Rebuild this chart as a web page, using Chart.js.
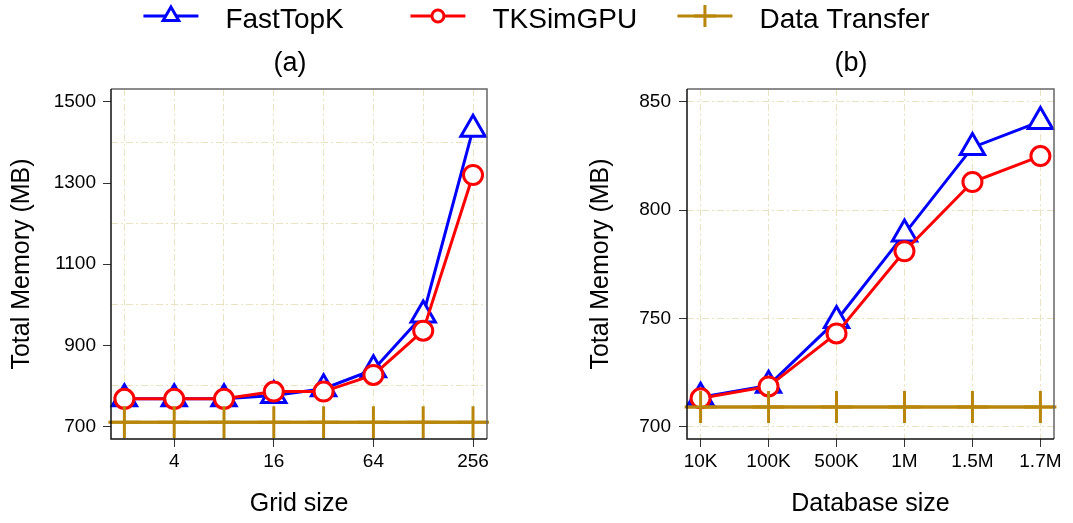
<!DOCTYPE html>
<html>
<head>
<meta charset="utf-8">
<script src="https://cdn.jsdelivr.net/npm/chart.js@4.4.0/dist/chart.umd.min.js"></script>
<style>
  html, body { margin: 0; padding: 0; background: #fff; }
  #wrap { position: relative; width: 1073px; height: 523px; }
  #wrap canvas { position: absolute; top: 0; }
  #chartA { left: 0; }
  #chartB { left: 540px; }
</style>
</head>
<body>
<div id="wrap">
  <canvas id="chartA" width="1073" height="523"></canvas>
  <canvas id="chartB" width="533" height="523"></canvas>
</div>
<script>
// panel (a): memory vs grid size
const gridSizes = [2, 4, 8, 16, 32, 64, 128, 256];
const gridLabels = [4, 16, 64, 256];
const fastTopKA = [768, 768, 768, 776, 793, 840, 975, 1433];
const tkSimGpuA = [768, 768, 768, 786, 786, 827, 936, 1320];
const transferA = [710, 710, 710, 710, 710, 710, 710, 710];
const yTicksA = [700, 900, 1100, 1300, 1500];

// panel (b): memory vs database size
const dbSizes = ['10K', '100K', '500K', '1M', '1.5M', '1.7M'];
const fastTopKB = [713.5, 719, 749, 789, 829, 841];
const tkSimGpuB = [713, 718.5, 743, 781, 813, 825];
const transferB = [709, 709, 709, 709, 709, 709];
const yTicksB = [700, 750, 800, 850];

const FONT = "'Liberation Sans', Arial, Helvetica, sans-serif";
const BLUE = '#0000ff';
const RED = '#ff0000';
const GOLD = '#b8860b';
const GRID = '#ebe2c2';
const AXIS = '#333';

Chart.defaults.font.family = FONT;
Chart.defaults.color = '#000';

// minor grid lines sit half way between labelled y ticks
const yGridA = [];
yTicksA.forEach((v, i) => {
  yGridA.push(v);
  if (i < yTicksA.length - 1) yGridA.push((v + yTicksA[i + 1]) / 2);
});

function lineSet(label, data, color, style, radius, order) {
  return {
    label: label,
    data: data,
    borderColor: color,
    borderWidth: 3,
    pointStyle: style,
    pointRadius: radius,
    pointBorderWidth: 3,
    pointBorderColor: color,
    pointBackgroundColor: '#fff',
    order: order,
    clip: false
  };
}

// box around plot, transfer line across full width, panel letter
const panelFrame = {
  id: 'panelFrame',
  beforeDatasetsDraw(chart, args, opts) {
    const ctx = chart.ctx, a = chart.chartArea;
    const py = chart.scales.y.getPixelForValue(opts.transfer);
    ctx.save();
    ctx.strokeStyle = GOLD;
    ctx.lineWidth = 3;
    ctx.beginPath();
    ctx.moveTo(a.left, py);
    ctx.lineTo(a.right, py);
    ctx.stroke();
    ctx.restore();
  },
  afterDatasetsDraw(chart, args, opts) {
    const ctx = chart.ctx, a = chart.chartArea;
    ctx.save();
    ctx.lineWidth = 1.5;
    ctx.strokeStyle = '#666';
    ctx.beginPath();
    ctx.moveTo(a.left, a.top);
    ctx.lineTo(a.right, a.top);
    ctx.lineTo(a.right, a.bottom);
    ctx.stroke();
    ctx.strokeStyle = '#111';
    ctx.beginPath();
    ctx.moveTo(a.left, a.top);
    ctx.lineTo(a.left, a.bottom);
    ctx.lineTo(a.right, a.bottom);
    ctx.stroke();
    ctx.fillStyle = '#000';
    ctx.font = '27px ' + FONT;
    ctx.textAlign = 'center';
    ctx.textBaseline = 'alphabetic';
    ctx.fillText(opts.title, opts.titleX, 71);
    ctx.restore();
  }
};

function marker(ctx, style, x, y, r) {
  ctx.beginPath();
  if (style === 'triangle') {
    ctx.moveTo(x, y - r);
    ctx.lineTo(x + r * Math.sin(Math.PI * 2 / 3), y + r / 2);
    ctx.lineTo(x - r * Math.sin(Math.PI * 2 / 3), y + r / 2);
    ctx.closePath();
    ctx.fill();
  } else if (style === 'circle') {
    ctx.arc(x, y, r, 0, Math.PI * 2);
    ctx.fill();
  } else {
    ctx.moveTo(x, y - r);
    ctx.lineTo(x, y + r);
    ctx.moveTo(x - r, y);
    ctx.lineTo(x + r, y);
  }
  ctx.stroke();
}

// shared legend across the top, drawn on the wide canvas
const topLegend = {
  id: 'topLegend',
  afterDraw(chart) {
    const ctx = chart.ctx;
    const items = [
      { label: 'FastTopK', color: BLUE, style: 'triangle', r: 9 },
      { label: 'TKSimGPU', color: RED, style: 'circle', r: 6 },
      { label: 'Data Transfer', color: GOLD, style: 'cross', r: 11 }
    ];
    const symW = 55, gap = 27, col = 267;
    ctx.save();
    ctx.font = '28px ' + FONT;
    const lastW = ctx.measureText(items[items.length - 1].label).width;
    const total = col * (items.length - 1) + symW + gap + lastW;
    let x0 = (chart.width - total) / 2;
    items.forEach((it, i) => {
      const x = x0 + i * col;
      ctx.strokeStyle = it.color;
      ctx.fillStyle = '#fff';
      ctx.lineWidth = 3;
      ctx.beginPath();
      ctx.moveTo(x, 16);
      ctx.lineTo(x + symW, 16);
      ctx.stroke();
      marker(ctx, it.style, x + symW / 2, 16, it.r);
      ctx.fillStyle = '#000';
      ctx.textAlign = 'left';
      ctx.textBaseline = 'alphabetic';
      ctx.fillText(it.label, x + symW + gap, 28);
    });
    ctx.restore();
  }
};

const dashGrid = [7, 3, 2, 3];

new Chart(document.getElementById('chartA'), {
  type: 'line',
  data: {
    datasets: [
      lineSet('FastTopK', fastTopKA.map((v, i) => ({ x: gridSizes[i], y: v })), BLUE, 'triangle', 14, 3),
      lineSet('TKSimGPU', tkSimGpuA.map((v, i) => ({ x: gridSizes[i], y: v })), RED, 'circle', 9.5, 2),
      lineSet('Data Transfer', transferA.map((v, i) => ({ x: gridSizes[i], y: v })), GOLD, 'cross', 16, 1)
    ]
  },
  options: {
    responsive: false,
    animation: false,
    events: [],
    devicePixelRatio: 1,
    layout: { padding: { top: 89, right: 586, bottom: 0, left: 0 } },
    plugins: {
      legend: { display: false },
      title: { display: false },
      tooltip: { enabled: false },
      panelFrame: { title: '(a)', titleX: 290, transfer: transferA[0] }
    },
    scales: {
      x: {
        type: 'logarithmic',
        min: 1.66,
        max: 311,
        afterBuildTicks: s => { s.ticks = gridSizes.map(v => ({ value: v })); },
        afterFit: s => { s.height = 84; },
        ticks: {
          autoSkip: false,
          maxRotation: 0,
          padding: 3,
          font: { size: 19 },
          color: '#000',
          callback: v => gridLabels.includes(v) ? String(v) : ''
        },
        grid: {
          color: GRID,
          lineWidth: 1,
          tickLength: 8,
          tickColor: c => (c.tick && gridLabels.includes(c.tick.value)) ? AXIS : 'transparent'
        },
        border: { display: false, dash: dashGrid },
        title: { display: true, text: 'Grid size', font: { size: 25 }, color: '#000', padding: { top: 0, bottom: 4 } }
      },
      y: {
        type: 'linear',
        min: 669,
        max: 1532,
        afterBuildTicks: s => { s.ticks = yGridA.map(v => ({ value: v })); },
        afterFit: s => { s.width = 111; },
        ticks: {
          autoSkip: false,
          padding: 7,
          font: { size: 19 },
          color: '#000',
          callback: v => yTicksA.includes(v) ? String(v) : ''
        },
        grid: {
          color: c => (c.tick && yTicksA.includes(c.tick.value)) ? 'transparent' : GRID,
          lineWidth: 1,
          tickLength: 8,
          tickColor: c => (c.tick && yTicksA.includes(c.tick.value)) ? AXIS : 'transparent'
        },
        border: { display: false, dash: dashGrid },
        title: { display: true, text: 'Total Memory (MB)', font: { size: 25 }, color: '#000', padding: { top: 7.5, bottom: 0 } }
      }
    }
  },
  plugins: [panelFrame, topLegend]
});

new Chart(document.getElementById('chartB'), {
  type: 'line',
  data: {
    datasets: [
      lineSet('FastTopK', fastTopKB.map((v, i) => ({ x: i, y: v })), BLUE, 'triangle', 14, 3),
      lineSet('TKSimGPU', tkSimGpuB.map((v, i) => ({ x: i, y: v })), RED, 'circle', 9.5, 2),
      lineSet('Data Transfer', transferB.map((v, i) => ({ x: i, y: v })), GOLD, 'cross', 16, 1)
    ]
  },
  options: {
    responsive: false,
    animation: false,
    events: [],
    devicePixelRatio: 1,
    layout: { padding: { top: 89, right: 10, bottom: 0, left: 0 } },
    plugins: {
      legend: { display: false },
      title: { display: false },
      tooltip: { enabled: false },
      panelFrame: { title: '(b)', titleX: 311, transfer: transferB[0] }
    },
    scales: {
      x: {
        type: 'linear',
        min: -0.2,
        max: 5.2,
        afterBuildTicks: s => { s.ticks = dbSizes.map((_, i) => ({ value: i })); },
        afterFit: s => { s.height = 84; },
        ticks: {
          autoSkip: false,
          maxRotation: 0,
          padding: 3,
          font: { size: 19 },
          color: '#000',
          callback: v => dbSizes[v] !== undefined ? dbSizes[v] : ''
        },
        grid: { color: GRID, lineWidth: 1, tickLength: 8, tickColor: AXIS },
        border: { display: false, dash: dashGrid },
        title: { display: true, text: 'Database size', font: { size: 25 }, color: '#000', padding: { top: 0, bottom: 4 } }
      },
      y: {
        type: 'linear',
        min: 694.2,
        max: 856,
        afterBuildTicks: s => { s.ticks = yTicksB.map(v => ({ value: v })); },
        afterFit: s => { s.width = 147; },
        ticks: {
          autoSkip: false,
          padding: 8,
          font: { size: 19 },
          color: '#000',
          callback: v => String(v)
        },
        grid: { color: GRID, lineWidth: 1, tickLength: 8, tickColor: AXIS },
        border: { display: false, dash: dashGrid },
        title: { display: true, text: 'Total Memory (MB)', font: { size: 25 }, color: '#000', padding: { top: 46, bottom: 0 } }
      }
    }
  },
  plugins: [panelFrame]
});
</script>
</body>
</html>
